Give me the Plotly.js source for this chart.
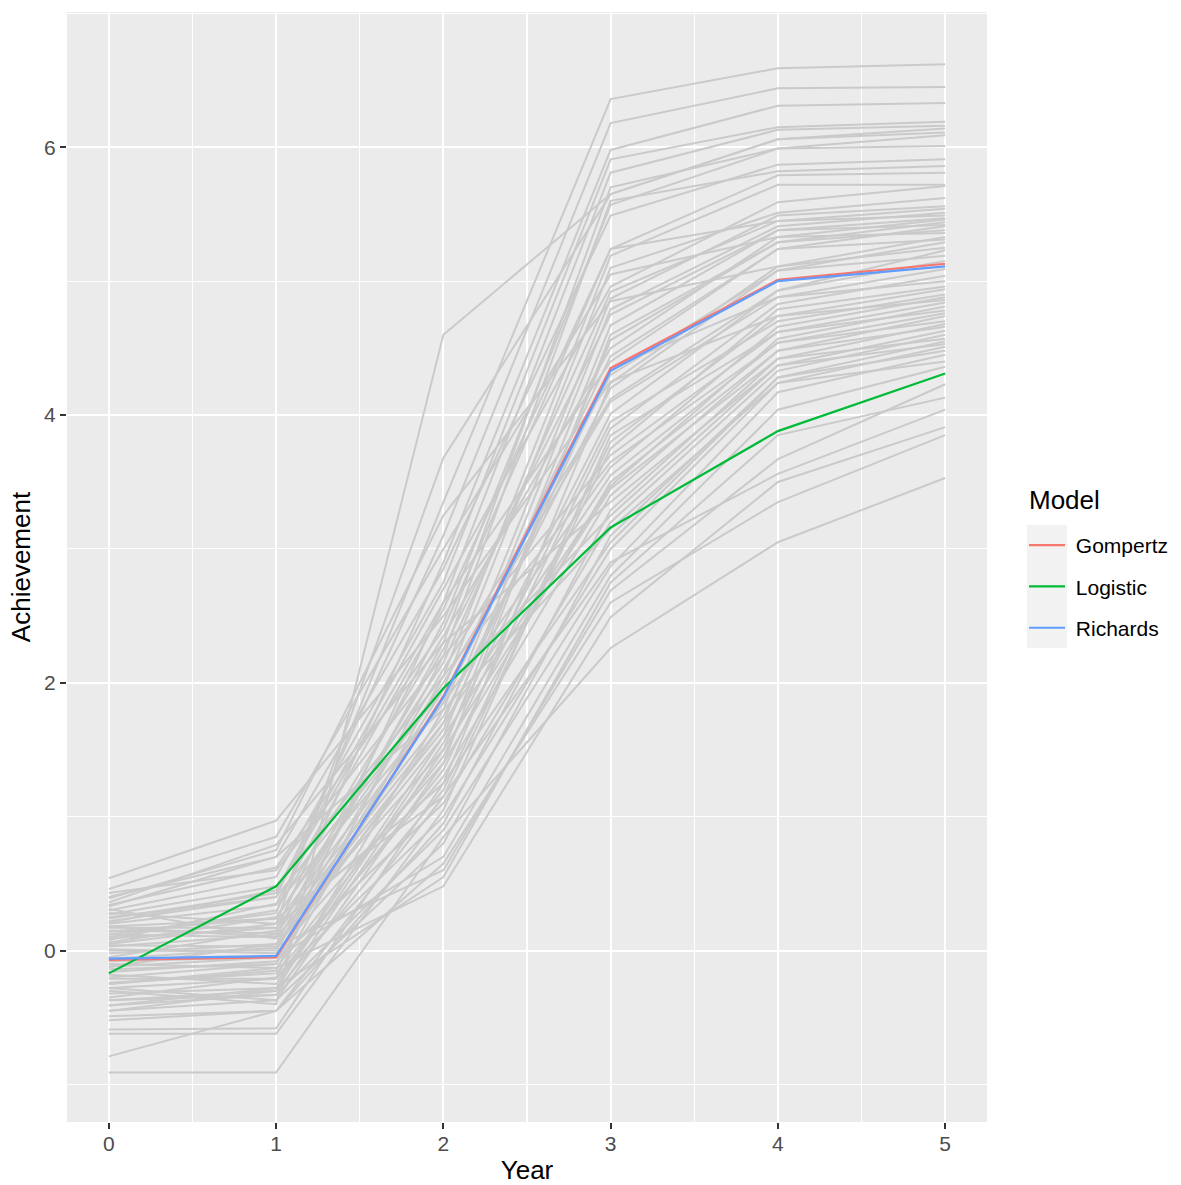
<!DOCTYPE html>
<html>
<head>
<meta charset="utf-8">
<script src="https://cdn.plot.ly/plotly-3.0.1.min.js"></script>
<style>
  body { margin: 0; background: #fff; }
  #chart { width: 1181px; height: 1185px; }
</style>
</head>
<body>
<div id="chart"></div>
<script>
const years = [0, 1, 2, 3, 4, 5];

// one entry per student (year 0 .. year 5)
const year0 = [0.12, 0.25, -0.05, 0.30, -0.20, 0.05, -0.30, 0.18, -0.12, 0.40, -0.25, 0.08, -0.35, 0.21, 0.00, -0.45, 0.34, -0.08, 0.14, -0.18, 0.46, -0.41, 0.03, 0.28, -0.28, 0.10, -0.59, 0.24, -0.14, 0.39, -0.06, 0.17, -0.32, 0.31, -0.21, 0.06, -0.49, 0.54, -0.10, 0.20, -0.37, 0.43, -0.02, -0.62, 0.15, -0.24, 0.27, -0.79, 0.01, 0.36, -0.16, 0.12, -0.45, 0.22, -0.28, 0.09, -0.37, 0.33, -0.12, 0.04, -0.41, 0.18, -0.25, -0.52, -0.91];
const year1 = [0.28, 0.40, 0.15, 0.55, -0.10, 0.20, -0.40, 0.10, 0.05, 0.70, -0.15, 0.35, -0.20, 0.45, 0.00, -0.30, 0.62, -0.05, 0.24, -0.25, 0.85, -0.33, 0.12, 0.20, -0.37, 0.30, -0.58, 0.43, -0.10, 0.75, 0.02, 0.17, -0.28, 0.09, -0.21, 0.25, -0.45, 0.97, -0.13, 0.34, -0.30, 0.60, 0.05, -0.62, 0.13, -0.17, 0.48, -0.45, -0.02, 0.79, -0.08, 0.10, -0.37, 0.40, -0.21, 0.17, -0.33, 0.70, -0.05, 0.03, -0.28, 0.24, -0.13, -0.45, -0.91];
const year2 = [3.35, 3.10, 2.90, 2.75, 2.60, 3.68, 4.60, 2.45, 2.30, 2.85, 2.20, 2.55, 2.05, 2.70, 1.95, 1.80, 2.40, 1.70, 2.15, 1.60, 3.00, 1.50, 2.25, 1.85, 1.40, 2.35, 1.25, 2.60, 1.90, 3.25, 2.10, 1.75, 1.55, 1.65, 1.35, 2.00, 1.15, 2.50, 1.45, 1.85, 1.20, 2.20, 1.60, 1.05, 1.70, 1.30, 2.05, 0.95, 1.40, 2.30, 1.10, 1.50, 0.80, 1.95, 1.00, 1.25, 0.90, 1.80, 0.70, 0.60, 0.55, 1.15, 0.48, 0.65, 0.85];
const year3 = [6.36, 6.18, 5.98, 5.91, 5.81, 5.65, 5.65, 5.57, 5.70, 5.49, 5.60, 5.24, 5.19, 4.96, 5.10, 4.87, 5.24, 4.79, 4.92, 4.67, 5.05, 4.56, 4.75, 4.44, 4.60, 4.50, 4.24, 4.40, 4.30, 4.85, 4.12, 4.20, 4.01, 4.35, 3.90, 4.10, 3.75, 4.25, 3.95, 3.61, 3.80, 3.70, 3.47, 3.85, 3.55, 3.40, 3.65, 3.29, 3.50, 3.35, 3.20, 3.45, 3.10, 3.25, 3.00, 3.05, 2.87, 3.15, 2.80, 2.69, 2.75, 2.90, 2.49, 2.60, 2.26];
const year4 = [6.59, 6.44, 6.31, 6.15, 6.13, 6.06, 6.06, 5.99, 5.99, 5.87, 5.82, 5.79, 5.72, 5.59, 5.51, 5.49, 5.45, 5.41, 5.45, 5.38, 5.33, 5.29, 5.38, 5.24, 5.29, 5.33, 5.11, 5.24, 5.08, 5.11, 4.93, 5.08, 4.93, 4.88, 4.83, 4.88, 4.79, 4.74, 4.70, 4.66, 4.74, 4.62, 4.57, 4.62, 4.54, 4.48, 4.54, 4.42, 4.48, 4.37, 4.33, 4.42, 4.28, 4.37, 4.24, 4.28, 4.17, 4.24, 4.04, 3.67, 3.85, 3.56, 3.50, 3.35, 3.05];
const year5 = [6.62, 6.45, 6.33, 6.19, 6.16, 6.14, 6.11, 6.09, 6.01, 5.91, 5.86, 5.81, 5.72, 5.71, 5.62, 5.56, 5.54, 5.51, 5.49, 5.47, 5.46, 5.44, 5.42, 5.41, 5.38, 5.36, 5.33, 5.31, 5.29, 5.25, 5.23, 5.19, 5.15, 5.09, 5.04, 5.00, 4.96, 4.94, 4.90, 4.88, 4.86, 4.84, 4.81, 4.78, 4.76, 4.74, 4.70, 4.68, 4.66, 4.63, 4.60, 4.57, 4.55, 4.53, 4.51, 4.48, 4.45, 4.40, 4.36, 4.23, 4.13, 4.04, 3.91, 3.85, 3.53];

// fitted mean curves
const modelNames = ["Gompertz", "Logistic", "Richards"];
const gompertz = [-0.07, -0.05, 1.90, 4.35, 5.01, 5.13];
const logistic = [-0.17, 0.48, 1.96, 3.16, 3.88, 4.31];
const richards = [-0.06, -0.04, 1.89, 4.33, 5.00, 5.11];
const modelColors = ["#F8766D", "#00BA38", "#619CFF"];

const yTicks = [0, 2, 4, 6];

// gray spaghetti: one trace, students separated by nulls
const byYear = [year0, year1, year2, year3, year4, year5];
const grayX = [];
const grayY = [];
for (let i = 0; i < year0.length; i++) {
  for (let j = 0; j < years.length; j++) {
    grayX.push(years[j]);
    grayY.push(byYear[j][i]);
  }
  grayX.push(null);
  grayY.push(null);
}

const traces = [
  {
    x: grayX,
    y: grayY,
    mode: "lines",
    type: "scatter",
    line: { color: "#CACACA", width: 2 },
    connectgaps: false,
    hoverinfo: "skip",
    showlegend: false,
  },
];

[gompertz, logistic, richards].forEach((vals, k) => {
  traces.push({
    x: years,
    y: vals,
    mode: "lines",
    type: "scatter",
    name: "\u00A0" + modelNames[k],
    legendgroup: modelNames[k],
    line: { color: modelColors[k], width: 2.2 },
  });
});

const font = "Liberation Sans, Arial, sans-serif";

// plot panel in pixels, for placing the legend pieces
const panelL = 67, panelW = 920, panelB = 1122, panelH = 1110;
const px = (v) => (v - panelL) / panelW;
const py = (v) => (panelB - v) / panelH;

const layout = {
  width: 1181,
  height: 1185,
  margin: { l: 67, r: 194, t: 12, b: 63, autoexpand: false },
  paper_bgcolor: "#FFFFFF",
  plot_bgcolor: "#EBEBEB",
  font: { family: font, color: "#000000" },
  showlegend: true,
  xaxis: {
    range: [-0.25, 5.25],
    tickvals: years,
    ticks: "outside",
    ticklen: 6,
    tickwidth: 2,
    tickcolor: "#333333",
    ticklabelstandoff: -3,
    tickfont: { family: font, size: 21, color: "#4D4D4D" },
    gridcolor: "#FFFFFF",
    gridwidth: 2.2,
    minor: { dtick: 0.5, tick0: 0.5, gridcolor: "#FFFFFF", gridwidth: 1.1, ticks: "" },
    zeroline: false,
    showline: false,
    title: { text: "Year", font: { family: font, size: 26, color: "#000000" }, standoff: 6 },
  },
  yaxis: {
    range: [-1.28, 7.01],
    tickvals: yTicks,
    ticks: "outside",
    ticklen: 6,
    tickwidth: 2,
    tickcolor: "#333333",
    tickfont: { family: font, size: 21, color: "#4D4D4D" },
    gridcolor: "#FFFFFF",
    gridwidth: 2.2,
    minor: { dtick: 2, tick0: 1, gridcolor: "#FFFFFF", gridwidth: 1.1, ticks: "" },
    zeroline: false,
    showline: false,
    title: { text: "Achievement", font: { family: font, size: 26, color: "#000000" }, standoff: 6 },
  },
  legend: {
    x: px(1024),
    xanchor: "left",
    y: py(525),
    yanchor: "top",
    bgcolor: "rgba(0,0,0,0)",
    font: { family: font, size: 21, color: "#000000" },
    traceorder: "grouped",
    tracegroupgap: 11,
    itemwidth: 36,
  },
  annotations: [
    {
      text: "Model",
      xref: "paper",
      yref: "paper",
      x: px(1027),
      y: py(500),
      xanchor: "left",
      yanchor: "middle",
      showarrow: false,
      font: { family: font, size: 26, color: "#000000" },
    },
  ],
  shapes: [
    {
      type: "rect",
      xref: "paper",
      yref: "paper",
      x0: px(1027),
      x1: px(1067),
      y0: py(648),
      y1: py(525),
      fillcolor: "#F2F2F2",
      line: { width: 0 },
      layer: "below",
    },
  ],
};

Plotly.newPlot("chart", traces, layout, { displayModeBar: false, staticPlot: true });
</script>
</body>
</html>
